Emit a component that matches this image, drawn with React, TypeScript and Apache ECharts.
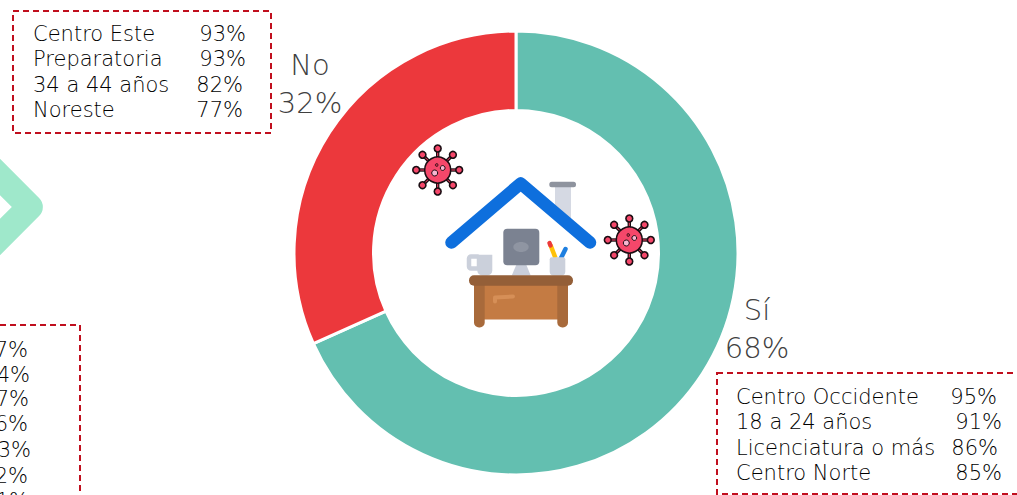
import React, { useEffect, useRef } from "react";
import * as echarts from "echarts";

const answers = ["Sí", "No"];
const shares = [68.3, 31.7];
const sliceColors = ["#63BFB0", "#EC383C"];

const noLabels = ["Centro Este", "Preparatoria", "34 a 44 años", "Noreste"];
const noValues = ["93%", "93%", "82%", "77%"];
const yesLabels = ["Centro Occidente", "18 a 24 años", "Licenciatura o más", "Centro Norte"];
const yesValues = ["95%", "91%", "86%", "85%"];
const leftValues = ["87%", "84%", "77%", "76%", "73%", "72%", "71%"];

const FONT = "'DejaVu Sans'";
const textColor = "#000000";
const dash = "#C00F1E";

const noValueRight = [246, 246, 243, 243];
const noRowY = [34, 59, 85, 110];
const yesValueRight = [997, 1002, 998, 1002];
const yesRowY = [397, 422, 448, 473];
const leftRowY = [350, 375, 399, 424, 450, 476, 501];
const leftValueRight = [28, 30, 29, 28, 31, 28, 29];

function txt(text: string, x: number, y: number, align: string) {
  return {
    type: "text",
    x,
    y,
    silent: true,
    style: { text, fill: textColor, font: `200 21px ${FONT}`, align, verticalAlign: "middle" },
  };
}

function box(x: number, y: number, width: number, height: number) {
  return {
    type: "rect",
    silent: true,
    shape: { x, y, width, height },
    style: { fill: "none", stroke: dash, lineWidth: 2, lineDash: [6, 4] },
  };
}

function virus(cx: number, cy: number) {
  const children: any[] = [];
  const outline = "#1a0d12";
  const body = "#F5476A";
  for (let i = 0; i < 8; i++) {
    const a = (i * Math.PI) / 4;
    const c = Math.cos(a);
    const s = Math.sin(a);
    children.push({
      type: "line",
      silent: true,
      shape: { x1: 10 * c, y1: 10 * s, x2: 21 * c, y2: 21 * s },
      style: { stroke: outline, lineWidth: 3.4 },
    });
    children.push({
      type: "line",
      silent: true,
      shape: { x1: 10 * c, y1: 10 * s, x2: 21 * c, y2: 21 * s },
      style: { stroke: body, lineWidth: 1 },
    });
    children.push({
      type: "circle",
      silent: true,
      shape: { cx: 21.5 * c, cy: 21.5 * s, r: 3.4 },
      style: { fill: body, stroke: outline, lineWidth: 1.6 },
    });
  }
  children.push({
    type: "circle",
    silent: true,
    shape: { cx: 0, cy: 0, r: 13 },
    style: { fill: body, stroke: outline, lineWidth: 1.5 },
  });
  children.push({
    type: "circle",
    silent: true,
    shape: { cx: -3, cy: 3, r: 3 },
    style: { fill: "#F7B7D2", stroke: outline, lineWidth: 1 },
  });
  children.push({
    type: "circle",
    silent: true,
    shape: { cx: 5, cy: -2, r: 2.4 },
    style: { fill: "#F7B7D2", stroke: outline, lineWidth: 1 },
  });
  children.push({
    type: "circle",
    silent: true,
    shape: { cx: -1, cy: -5, r: 1.4 },
    style: { fill: "#C9304A", stroke: outline, lineWidth: 0.8 },
  });
  return { type: "group", x: cx, y: cy, silent: true, children };
}

function rrect(x: number, y: number, width: number, height: number, r: number | number[], fill: string) {
  return { type: "rect", silent: true, shape: { x, y, width, height, r }, style: { fill } };
}

function house() {
  return [
    { type: "polygon", silent: true, shape: { points: [[555, 187], [571, 187], [571, 228], [555, 215]] }, style: { fill: "#D5D9E3" } },
    rrect(549.3, 181.7, 26.7, 5.6, 2.5, "#8E939E"),
    {
      type: "polyline",
      silent: true,
      shape: { points: [[451.5, 242.5], [520.7, 183.5], [590, 242.5]] },
      style: { fill: "none", stroke: "#0E6FDD", lineWidth: 12.5, lineCap: "round", lineJoin: "round" },
    },
    { type: "polygon", silent: true, shape: { points: [[516.7, 264], [526, 264], [530.7, 275.5], [511.7, 275.5]] }, style: { fill: "#C9CEDA" } },
    rrect(503.3, 228.7, 36, 36.6, 4, "#7B8291"),
    { type: "ellipse", silent: true, shape: { cx: 521, cy: 247, rx: 7.7, ry: 5 }, style: { fill: "#8F95A2" } },
    {
      type: "rect",
      silent: true,
      shape: { x: 469, y: 256.5, width: 10, height: 12, r: 2 },
      style: { fill: "#fff", stroke: "#CBD0DB", lineWidth: 4.5 },
    },
    rrect(477.3, 254.7, 15, 20.8, [0, 0, 5, 5], "#CBD0DB"),
    { type: "line", silent: true, shape: { x1: 550.5, y1: 245, x2: 555.5, y2: 258 }, style: { stroke: "#FFC107", lineWidth: 4.5 } },
    { type: "line", silent: true, shape: { x1: 549.5, y1: 243, x2: 550.5, y2: 245.5 }, style: { stroke: "#EC3A3A", lineWidth: 4.5, lineCap: "round" } },
    { type: "line", silent: true, shape: { x1: 565.5, y1: 249, x2: 561, y2: 258 }, style: { stroke: "#1E7FE0", lineWidth: 4.5, lineCap: "round" } },
    rrect(549.7, 257.3, 15.6, 18.2, [2, 2, 4, 4], "#CBD0DB"),
    rrect(484, 285, 74, 34.5, 0, "#C47B43"),
    rrect(474, 284, 10.7, 43.5, [0, 0, 5, 5], "#A86A3B"),
    rrect(557.3, 284, 10.7, 43.5, [0, 0, 5, 5], "#A86A3B"),
    rrect(469, 275.3, 104, 10.4, 5, "#945F38"),
    {
      type: "polyline",
      silent: true,
      shape: { points: [[495, 301.5], [495, 297.5], [513, 296.5]] },
      style: { fill: "none", stroke: "#D68F57", lineWidth: 4, lineCap: "round", lineJoin: "round" },
    },
  ];
}

export default function App() {
  const ref = useRef<HTMLDivElement>(null);

  useEffect(() => {
    document.body.style.margin = "0";
    const chart = echarts.init(ref.current!, undefined, { renderer: "svg" });
    const pieLabelPos = [
      { x: 757, y: 329 },
      { x: 310, y: 84 },
    ];
    const graphics: any[] = [
      {
        type: "polyline",
        silent: true,
        shape: { points: [[-30, 147], [30, 207], [-30, 267]] },
        style: { fill: "none", stroke: "#9FE8CB", lineWidth: 25.7, lineJoin: "round" },
      },
      ...house(),
      virus(437.7, 170),
      virus(629.3, 240),
      box(13, 11, 258, 122),
      box(717, 373, 340, 121),
      box(-200, 325, 280, 220),
      ...noLabels.map((t, i) => txt(t, 33, noRowY[i], "left")),
      ...noValues.map((t, i) => txt(t, noValueRight[i], noRowY[i], "right")),
      ...yesLabels.map((t, i) => txt(t, 736, yesRowY[i], "left")),
      ...yesValues.map((t, i) => txt(t, yesValueRight[i], yesRowY[i], "right")),
      ...leftValues.map((t, i) => txt(t, leftValueRight[i], leftRowY[i], "right")),
    ];
    chart.setOption({
      animation: false,
      backgroundColor: "#ffffff",
      series: [
        {
          type: "pie",
          center: [516, 253],
          radius: [142.5, 222],
          startAngle: 90,
          clockwise: true,
          silent: true,
          itemStyle: { borderColor: "#fff", borderWidth: 3 },
          label: {
            show: true,
            position: "outside",
            formatter: (p: any) => `${p.name}\n${Math.round(p.value)}%`,
            fontFamily: FONT,
            fontWeight: 200,
            fontSize: 29,
            lineHeight: 38,
            color: "#404040",
          },
          labelLine: { show: false },
          labelLayout: (p: any) => ({ ...pieLabelPos[p.dataIndex], align: "center", verticalAlign: "middle" }),
          data: answers.map((name, i) => ({ name, value: shares[i], itemStyle: { color: sliceColors[i] } })),
          z: 1,
        },
      ],
      graphic: graphics,
    });
    return () => chart.dispose();
  }, []);

  return <div ref={ref} style={{ position: "absolute", left: 0, top: 0, width: 1017, height: 495, overflow: "hidden" }} />;
}
